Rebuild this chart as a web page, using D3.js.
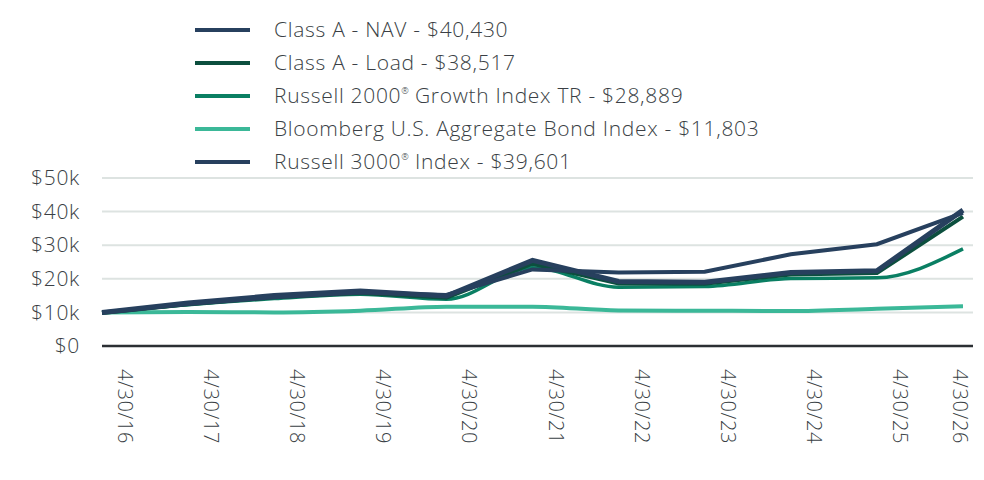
<!DOCTYPE html>
<html>
<head>
<meta charset="utf-8">
<script src="https://cdn.jsdelivr.net/npm/d3@7"></script>
<style>
  html, body { margin: 0; padding: 0; background: #fff; }
  svg { display: block; font-family: "Open Sans", Roboto, sans-serif; }
</style>
</head>
<body>
<div id="chart"></div>
<script>
// Period end dates (x categories)
const dates = ['4/30/16', '4/30/17', '4/30/18', '4/30/19', '4/30/20', '4/30/21',
  '4/30/22', '4/30/23', '4/30/24', '4/30/25', '4/30/26'];

// Growth of $10k, values in dollars
const classANav = [10000, 12800, 15000, 16400, 14900, 25500, 19200, 19000, 21900, 22400, 40430];
const classALoad = [9800, 12400, 14500, 15800, 14400, 24500, 18600, 18500, 21300, 21700, 38517];
const russell2000G = [10000, 12300, 14100, 15400, 13900, 23300, 17500, 17700, 20100, 20300, 28889];
const bloombergAgg = [10000, 10100, 10000, 10500, 11700, 11700, 10600, 10500, 10400, 11100, 11803];
const russell3000 = [10000, 12500, 14500, 15900, 15200, 22800, 21900, 22100, 27300, 30300, 39601];

const yTicks = [0, 10000, 20000, 30000, 40000, 50000];

const seriesNames = [
  ['Class A - NAV - $40,430'],
  ['Class A - Load - $38,517'],
  ['Russell 2000', '®', ' Growth Index TR - $28,889'],
  ['Bloomberg U.S. Aggregate Bond Index - $11,803'],
  ['Russell 3000', '®', ' Index - $39,601']
];
const seriesColors = ['#27405e', '#0c4f3e', '#0a7f63', '#3bb898', '#27405e'];
const seriesWidths = [5, 4, 3.5, 4, 4];
const seriesValues = [classANav, classALoad, russell2000G, bloombergAgg, russell3000];
// smoother look for the index lines that are drawn from denser data
const seriesCurves = [d3.curveLinear, d3.curveLinear, d3.curveMonotoneX, d3.curveMonotoneX, d3.curveLinear];
const drawOrder = [3, 2, 1, 0, 4];

const width = 984, height = 480;
const margin = { top: 178, right: 11, bottom: 134, left: 102 };

const svg = d3.select('#chart').append('svg')
  .attr('width', width)
  .attr('height', height);

const x = d3.scalePoint()
  .domain(dates)
  .range([margin.left, 963]);

const y = d3.scaleLinear()
  .domain([0, 50000])
  .range([height - margin.bottom, margin.top]);

const textColor = '#3a3f45';

// Grid
svg.append('g')
  .selectAll('line')
  .data(yTicks.filter(d => d > 0))
  .join('line')
  .attr('x1', margin.left)
  .attr('x2', width - margin.right)
  .attr('y1', d => y(d))
  .attr('y2', d => y(d))
  .attr('stroke', '#dde3e1')
  .attr('stroke-width', 2);

// Y axis labels
const yAxis = svg.append('g')
  .attr('transform', `translate(${margin.left},0)`)
  .call(d3.axisLeft(y).tickValues(yTicks).tickSize(0).tickPadding(22)
    .tickFormat(d => d === 0 ? '$0' : `$${d / 1000}k`));
yAxis.select('.domain').remove();
yAxis.selectAll('text')
  .attr('fill', textColor)
  .attr('font-size', 21)
  .attr('font-weight', 300)
  .attr('letter-spacing', 0.7)
  .attr('font-family', '"Open Sans", sans-serif');

// Baseline
svg.append('line')
  .attr('x1', margin.left)
  .attr('x2', width - margin.right)
  .attr('y1', y(0))
  .attr('y2', y(0))
  .attr('stroke', '#2b2f33')
  .attr('stroke-width', 2.5);

// X labels, rotated
svg.append('g')
  .selectAll('text')
  .data(dates)
  .join('text')
  .attr('transform', d => `translate(${Math.min(x(d) + 23, width - 24)},369) rotate(90)`)
  .attr('dy', '0.35em')
  .attr('fill', textColor)
  .attr('font-size', 20)
  .attr('letter-spacing', 0.6)
  .attr('font-weight', 300)
  .text(d => d);

// Lines
drawOrder.forEach(i => {
  const line = d3.line()
    .x((d, j) => x(dates[j]))
    .y(d => y(d))
    .curve(seriesCurves[i]);
  svg.append('path')
    .datum(seriesValues[i])
    .attr('fill', 'none')
    .attr('stroke', seriesColors[i])
    .attr('stroke-width', seriesWidths[i])
    .attr('stroke-linejoin', 'miter')
    .attr('d', line);
});

// Legend
const legend = svg.append('g');
seriesNames.forEach((parts, i) => {
  const ly = 30 + i * 33;
  legend.append('line')
    .attr('x1', 195)
    .attr('x2', 250)
    .attr('y1', ly)
    .attr('y2', ly)
    .attr('stroke', seriesColors[i])
    .attr('stroke-width', 4);
  const t = legend.append('text')
    .attr('x', 274)
    .attr('y', ly + 7);
  t.attr('fill', textColor)
    .attr('font-size', 21)
    .attr('letter-spacing', 0.7)
    .attr('font-weight', 300);
  let raised = false;
  parts.forEach(p => {
    const ts = t.append('tspan').text(p);
    if (p === '®') {
      ts.attr('font-size', 9).attr('dy', -9).attr('letter-spacing', 0);
      raised = true;
    } else if (raised) {
      ts.attr('dy', 9);
      raised = false;
    }
  });
});
</script>
</body>
</html>
